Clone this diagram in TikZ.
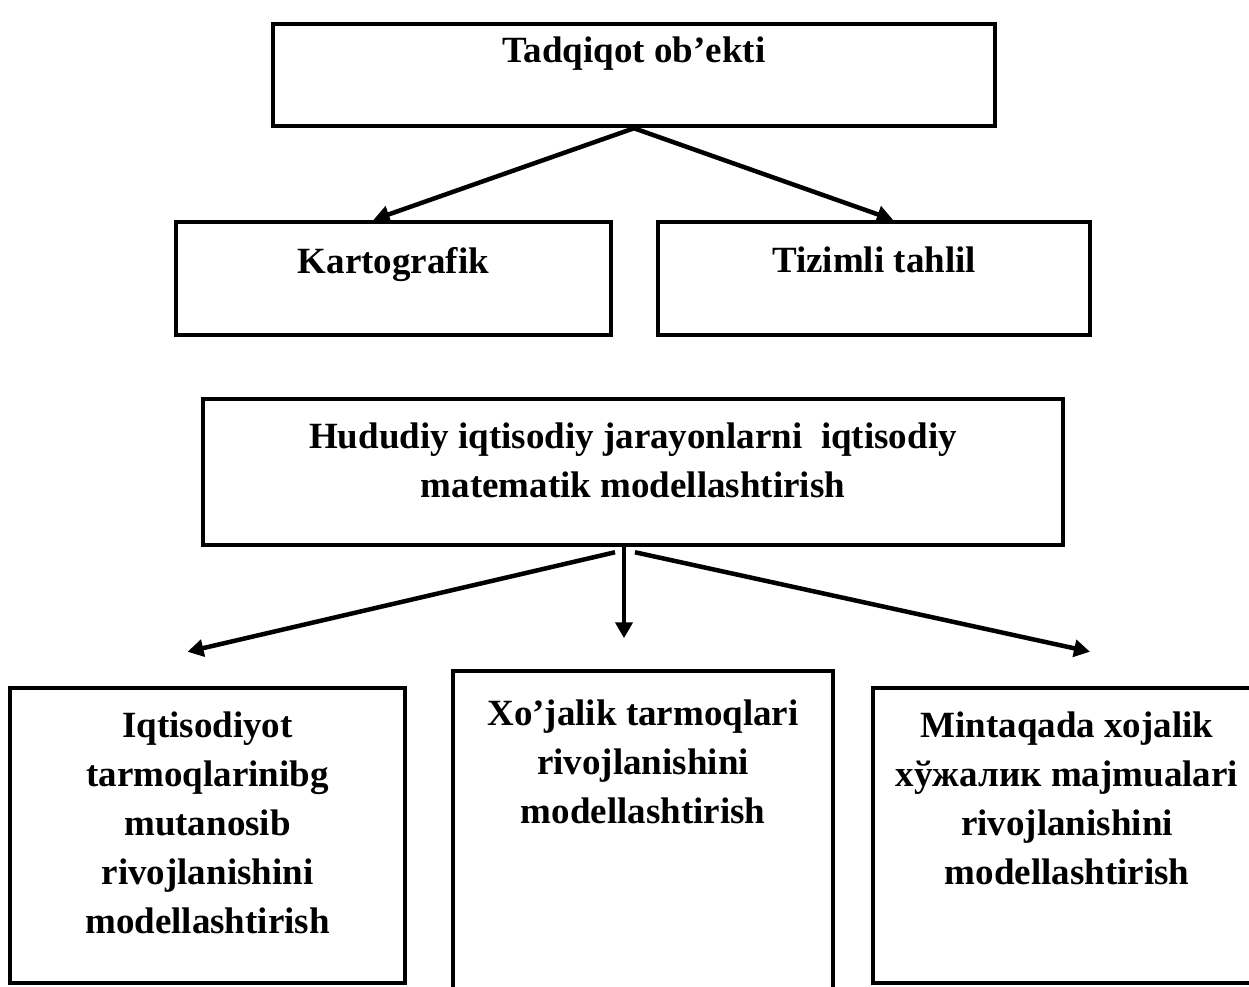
\documentclass[tikz,border=0pt]{standalone}
\usepackage{fontspec}
\setmainfont{Liberation Serif}
\usetikzlibrary{arrows.meta,calc}
\begin{document}
\begin{tikzpicture}[x=1pt,y=-1pt,
  box/.style={draw=black,line width=4.5pt,inner sep=0pt},
  txt/.style={font=\fontsize{37}{49}\selectfont\bfseries,align=center,inner sep=0pt,anchor=north},
  arr/.style={line width=4.5pt,-{Triangle[length=16pt,width=17pt]}}]
\useasboundingbox (0,0) rectangle (1249,986);
\clip (0,0) rectangle (1249,986);
% boxes
\node[box,minimum width=722pt,minimum height=102pt] (top) at (634,75) {};
\node[box,minimum width=435pt,minimum height=113pt] (kart) at (393.5,278.5) {};
\node[box,minimum width=432pt,minimum height=113pt] (tiz) at (874,278.5) {};
\node[box,minimum width=860pt,minimum height=146pt] (hud) at (633,472) {};
\node[box,minimum width=395pt,minimum height=295pt] (bl) at (207.5,835.5) {};
\node[box,minimum width=380pt,minimum height=340pt] (bm) at (643,841) {};
\node[box,minimum width=388pt,minimum height=295pt] (br) at (1067,835.5) {};
% texts
\node[txt] (ttop) at (634,37) {Tadqiqot ob’ekti};
\node[txt] (tkart) at (393.5,247) {Kartografik};
\node[txt] (ttiz) at (874,247) {Tizimli tahlil};
\node[txt] (thud) at (633,423) {Hududiy iqtisodiy jarayonlarni\ \ iqtisodiy\\matematik modellashtirish};
\node[txt] (tbl) at (207.5,712) {Iqtisodiyot\\tarmoqlarinibg\\mutanosib\\rivojlanishini\\modellashtirish};
\node[txt] (tbm) at (643,700) {Xo’jalik tarmoqlari\\rivojlanishini\\modellashtirish};
\node[txt] (tbr) at (1067,712) {Mintaqada xojalik\\хўжалик majmualari\\rivojlanishini\\modellashtirish};
% arrow ends
\coordinate (kTip) at ($(kart.north)+(-20,0)$);
\coordinate (tTip) at ($(tiz.north)+(19,0)$);
\coordinate (hL) at ($(hud.south)+(-18,5)$);
\coordinate (hM) at ($(hud.south)+(-9,0)$);
\coordinate (hR) at ($(hud.south)+(2,5)$);
\coordinate (lTip) at ($(bl.north)+(-20,-34)$);
\coordinate (mTip) at ($(hud.south)+(-9,91)$);
\coordinate (rTip) at ($(br.north)+(23,-34)$);
% connectors
\draw[arr] (top.south) -- (kTip);
\draw[arr] (top.south) -- (tTip);
\draw[arr] (hL) -- (lTip);
\draw[arr] (hM) -- (mTip);
\draw[arr] (hR) -- (rTip);
\end{tikzpicture}
\end{document}
